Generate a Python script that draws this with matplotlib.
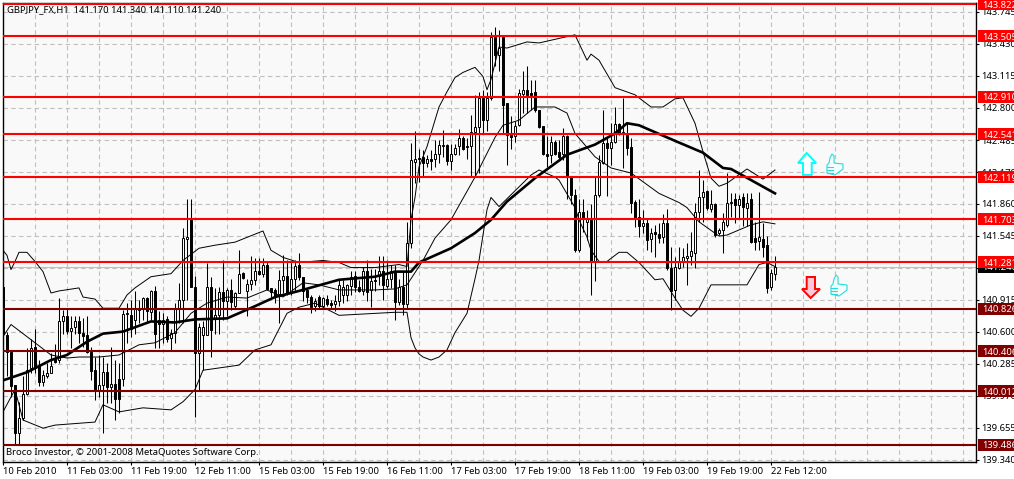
import matplotlib
matplotlib.use('Agg')
import matplotlib.pyplot as plt
from matplotlib.patches import Polygon, Rectangle
from matplotlib.transforms import blended_transform_factory
import numpy as np

# GBPJPY H1 bars (price)
opens = [141.04,140.57,140.40,140.07,139.60,139.75,139.99,140.24,140.45,140.26,
         140.10,140.16,140.19,140.34,140.32,140.70,140.75,140.61,140.65,140.70,
         140.59,140.57,140.40,140.22,140.03,140.07,140.20,140.05,140.08,140.13,
         140.13,140.77,140.76,140.71,140.81,140.83,140.93,140.79,141.00,140.71,
         140.67,140.72,140.54,140.59,140.83,140.91,141.51,141.70,141.04,140.39,
         140.57,140.57,141.04,140.73,140.76,140.99,140.90,141.01,140.85,140.98,
         141.18,141.00,141.07,141.11,141.20,141.17,141.26,141.03,141.01,140.97,
         141.11,141.15,140.98,141.12,141.26,141.14,141.01,140.94,140.85,140.94,
         140.85,140.92,140.88,140.87,140.90,140.96,140.96,141.05,141.15,141.04,
         141.00,141.20,141.01,141.11,141.15,141.20,141.05,141.12,141.20,140.89,
         141.04,140.87,141.47,142.27,142.31,142.32,142.26,142.30,142.30,142.35,
         142.43,142.44,142.28,142.35,142.43,142.50,142.43,142.43,142.56,142.61,
         142.90,142.68,142.90,143.50,143.32,143.50,142.85,142.55,142.52,142.63,
         142.94,142.98,142.95,142.96,142.78,142.62,142.35,142.34,142.47,142.37,
         142.35,142.52,142.12,141.94,141.40,141.78,141.68,141.70,141.29,141.94,
         142.26,142.46,142.41,142.47,142.64,142.55,142.55,142.42,141.88,141.73,
         141.64,141.67,141.51,141.58,141.56,141.53,141.67,141.23,141.01,141.23,
         141.28,141.32,141.34,141.37,141.78,141.92,141.98,141.81,141.86,141.57,
         141.60,141.65,141.87,141.90,141.85,141.92,141.82,141.90,141.52,141.49,
         141.51,141.45,141.04,141.17]
highs = [141.40,140.60,140.42,140.07,139.91,140.16,140.44,140.53,140.63,140.32,
         140.22,140.29,140.39,140.48,140.93,140.81,140.83,140.75,140.75,140.75,
         140.73,140.75,140.45,140.35,140.37,140.35,140.29,140.45,140.32,140.29,
         140.81,140.88,140.91,141.00,140.91,140.94,140.94,141.01,141.05,140.80,
         140.78,140.75,140.63,140.88,141.08,141.62,141.90,141.90,141.15,140.68,
         140.70,141.27,141.14,141.03,141.04,141.30,141.03,141.12,140.99,141.40,
         141.19,141.12,141.34,141.32,141.32,141.32,141.29,141.03,141.03,141.21,
         141.35,141.30,141.29,141.30,141.37,141.14,141.03,140.96,140.93,140.96,
         140.94,140.96,140.91,140.96,141.11,141.11,141.07,141.20,141.20,141.11,
         141.24,141.30,141.22,141.22,141.34,141.34,141.30,141.26,141.26,141.12,
         141.19,141.68,142.46,142.57,142.40,142.39,142.34,142.39,142.49,142.49,
         142.58,142.45,142.45,142.45,142.59,142.52,142.50,142.73,142.93,142.96,
         142.98,142.96,143.55,143.60,143.57,143.52,142.85,142.72,142.67,142.99,
         143.16,143.21,143.08,143.08,142.78,142.62,142.52,142.52,142.49,142.49,
         142.60,142.53,142.12,142.00,141.90,141.90,141.80,141.86,142.12,142.34,
         142.78,142.50,142.65,142.81,142.65,142.90,142.65,142.50,141.89,141.90,
         141.80,141.72,141.62,141.65,141.67,141.76,141.81,141.43,141.33,141.43,
         141.42,141.47,141.58,141.87,142.19,142.09,141.99,141.99,141.87,141.62,
         141.77,142.16,141.96,141.96,141.94,141.96,141.96,141.96,141.68,141.97,
         141.67,141.54,141.22,141.34]
lows = [140.49,140.16,139.96,139.48,139.48,139.73,139.98,140.19,140.19,140.06,
        140.06,140.14,140.19,140.29,140.29,140.58,140.58,140.44,140.58,140.49,
        140.45,140.39,140.12,139.93,139.96,139.60,139.90,139.90,139.73,139.80,
        140.06,140.49,140.55,140.58,140.68,140.71,140.68,140.71,140.44,140.44,
        140.49,140.50,140.41,140.49,140.68,140.68,140.91,141.04,139.76,140.03,
        140.22,140.57,140.35,140.58,140.58,140.71,140.75,140.81,140.83,140.98,
        141.12,140.75,141.01,141.06,141.16,141.14,141.01,140.94,140.88,140.68,
        140.98,140.96,140.96,141.00,141.11,140.90,140.88,140.78,140.80,140.83,
        140.83,140.85,140.83,140.80,140.85,140.88,140.90,140.96,140.99,140.99,
        140.96,140.90,140.84,141.00,141.06,140.91,141.03,141.03,140.71,140.86,
        140.76,140.83,141.42,142.06,142.07,142.12,142.22,142.19,142.22,142.26,
        142.32,142.24,142.19,142.34,142.34,142.39,142.30,142.12,142.12,142.16,
        142.55,142.57,142.88,143.21,143.16,142.55,142.24,142.40,142.47,142.62,
        142.75,142.75,142.78,142.76,142.60,142.34,142.22,142.26,142.34,142.29,
        142.29,141.90,141.86,141.38,141.38,141.58,141.50,140.96,141.10,141.92,
        142.25,141.93,142.24,142.46,142.53,142.21,142.34,141.77,141.63,141.53,
        141.57,141.40,141.38,141.33,141.47,141.47,141.21,140.81,140.91,141.22,
        141.24,141.06,141.26,141.23,141.68,141.68,141.80,141.78,141.53,141.55,
        141.37,141.63,141.73,141.67,141.71,141.64,141.64,141.47,141.40,141.40,
        141.33,140.98,141.01,141.11]
closes = [140.58,140.40,140.06,139.60,139.75,139.99,140.22,140.44,140.24,140.10,
          140.17,140.19,140.26,140.30,140.70,140.75,140.61,140.64,140.70,140.59,
          140.56,140.40,140.21,140.03,140.07,140.20,140.05,140.08,139.94,139.94,
          140.77,140.78,140.63,140.83,140.83,140.93,140.80,141.00,140.58,140.67,
          140.71,140.53,140.59,140.83,140.91,141.52,141.53,141.04,140.39,140.65,
          140.65,141.04,140.62,140.76,140.99,140.90,141.01,140.89,140.98,141.17,
          141.13,141.07,141.11,141.20,141.17,141.26,141.02,140.99,140.94,141.11,
          141.15,140.98,141.12,141.25,141.14,141.00,140.94,140.84,140.90,140.85,
          140.93,140.87,140.86,140.90,141.06,141.04,141.06,141.14,141.04,141.00,
          141.20,140.99,141.10,141.10,141.20,141.06,141.12,141.20,140.89,141.04,
          140.87,141.47,142.29,142.30,142.30,142.26,142.30,142.28,142.35,142.44,
          142.44,142.28,142.35,142.41,142.50,142.40,142.42,142.56,142.61,142.90,
          142.68,142.90,143.50,143.32,143.39,142.83,142.53,142.51,142.62,142.95,
          142.98,142.93,142.93,142.78,142.61,142.35,142.33,142.47,142.35,142.32,
          142.52,142.12,141.94,141.40,141.78,141.72,141.72,141.29,141.94,142.27,
          142.46,142.41,142.47,142.64,142.55,142.56,142.41,141.87,141.72,141.64,
          141.67,141.50,141.57,141.56,141.52,141.67,141.23,141.00,141.24,141.28,
          141.33,141.34,141.39,141.78,141.92,141.97,141.82,141.86,141.55,141.60,
          141.68,141.87,141.88,141.85,141.90,141.83,141.87,141.48,141.48,141.53,
          141.43,141.03,141.18,141.24]

# Bollinger bands and moving average, read at the bars where they bend
upper_bar = [0,1,2,3,4,6,8,10,12,14,19,20,23,25,29,31,33,37,42,45,49,53,58,65,67,70,74,77,80,84,
             87,93,99,101,102,103,104,106,109,111,113,115,118,120,121,122,124,126,131,134,143,146,
             147,149,153,158,162,165,168,170,173,175,177,179,181,186,190,193]
upper_val = [141.40,141.35,141.21,141.29,141.38,141.38,141.29,141.19,140.98,141.00,141.03,140.94,
             140.92,140.83,140.83,140.96,141.03,141.14,141.17,141.30,141.42,141.45,141.48,141.59,
             141.40,141.33,141.28,141.29,141.30,141.28,141.23,141.23,141.26,141.24,141.70,141.92,
             142.22,142.42,142.81,142.96,143.10,143.15,143.20,143.11,142.98,143.08,143.40,143.39,
             143.45,143.44,143.52,143.27,143.33,143.27,143.00,142.93,142.81,142.81,142.89,142.90,
             142.65,142.37,142.11,142.03,142.06,142.20,142.10,142.19]
lower_bar = [0,3,5,10,13,23,25,29,35,42,45,48,50,59,63,67,71,74,78,84,98,101,102,103,104,105,107,
             109,111,113,116,118,119,120,121,122,124,132,134,138,139,143,144,146,147,149,151,154,
             156,159,163,165,168,170,172,174,177,186,189,191,193]
lower_val = [139.81,140.03,139.73,139.65,139.68,139.71,139.88,139.81,139.85,139.83,139.91,140.03,
             140.22,140.27,140.42,140.47,140.78,140.84,140.88,140.76,140.79,140.79,140.54,140.44,
             140.38,140.35,140.32,140.35,140.42,140.59,140.78,141.12,141.30,141.55,141.80,141.92,
             141.83,142.14,142.19,142.12,142.09,141.82,141.70,141.53,141.40,141.29,141.29,141.38,
             141.38,141.28,141.11,141.12,140.93,140.81,140.75,140.83,141.06,141.06,141.26,141.28,
             141.24]
mid_bar = [0,2,4,8,12,16,19,24,29,34,38,43,47,51,56,61,66,70,75,79,84,93,98,101,105,108,112,118,
           123,125,129,133,138,141,143,148,152,157,164,169,171,174,179,181,187,190,193]
mid_val = [140.55,140.67,140.61,140.49,140.37,140.34,140.35,140.35,140.37,140.47,140.49,140.59,
           140.78,140.88,140.94,140.93,141.01,140.94,141.08,141.06,141.01,141.01,141.02,141.06,
           141.30,141.52,141.70,142.12,142.51,142.63,142.68,142.81,142.81,142.75,142.55,142.32,
           142.21,142.16,141.96,141.87,141.82,141.68,141.54,141.55,141.65,141.68,141.66]
ma_bar = [0,6,12,16,21,25,30,37,43,48,56,63,68,74,84,93,98,102,104,112,118,122,126,133,141,148,
          153,156,159,169,175,180,182,193]
ma_val = [140.12,140.20,140.32,140.37,140.50,140.58,140.60,140.70,140.69,140.72,140.73,140.85,
          140.94,141.00,141.11,141.14,141.19,141.19,141.28,141.42,141.57,141.70,141.88,142.11,
          142.34,142.44,142.55,142.65,142.63,142.46,142.36,142.21,142.20,141.96]

# horizontal levels and their tags
levels_red = [143.822,143.505,142.910,142.541,142.119,141.703,141.281]
levels_dark = [140.826,140.406,140.012,139.486]

price_ticks = [143.745,143.430,143.115,142.800,142.485,142.170,141.860,141.545,141.230,
               140.915,140.600,140.285,139.970,139.655,139.340]
time_bars = list(range(0, 193, 16))
time_labels = ['10 Feb 2010','11 Feb 03:00','11 Feb 19:00','12 Feb 11:00','15 Feb 03:00',
               '15 Feb 19:00','16 Feb 11:00','17 Feb 03:00','17 Feb 19:00','18 Feb 11:00',
               '19 Feb 03:00','19 Feb 19:00','22 Feb 12:00']
last_price = 141.24

W, H = 1014, 479
plt.rcParams['font.family'] = ['Noto Sans', 'DejaVu Sans']
LABEL = 6.8

fig = plt.figure(figsize=(W / 100, H / 100), dpi=100, facecolor='white')
ax = fig.add_axes([3 / W, 1 - 462 / H, 973 / W, 459 / H], facecolor='#f9f9f9')
ax.set_xlim(0, 973 / 4)
ax.set_ylim(139.317, 143.833)
for s in ax.spines.values():
    s.set_linewidth(1.0)
    s.set_color('black')

ax.yaxis.tick_right()
ax.set_yticks(price_ticks)
ax.set_yticklabels(['%.3f' % p for p in price_ticks], fontsize=LABEL)
ax.set_xticks(time_bars)
ax.set_xticklabels(time_labels, fontsize=LABEL, ha='left')
ax.tick_params(axis='both', length=2.2, width=0.8, pad=1.6, color='black')

# dashed grid, one vertical every 8 bars
grid_kw = dict(color='#c0c0c0', lw=0.8, dashes=(4, 3), zorder=1)
for p in price_ticks:
    ax.axhline(p, **grid_kw)
for b in np.arange(8, 243, 8):
    ax.axvline(b, **grid_kw)
ax.axhline(last_price, color='#c0c0c0', lw=0.8, zorder=1)

# candles
bars = np.arange(len(opens))
o = np.array(opens)
c = np.array(closes)
ax.vlines(bars, lows, highs, color='black', lw=0.75, zorder=3)
up = c >= o
ax.bar(bars[up], (c - o)[up], bottom=o[up], width=0.62, facecolor='white',
       edgecolor='black', linewidth=0.7, zorder=4)
ax.bar(bars[~up], (o - c)[~up], bottom=c[~up], width=0.62, facecolor='black',
       edgecolor='black', linewidth=0.7, zorder=4)

ax.plot(upper_bar, upper_val, color='black', lw=0.7, zorder=5)
ax.plot(lower_bar, lower_val, color='black', lw=0.7, zorder=5)
ax.plot(mid_bar, mid_val, color='black', lw=0.7, zorder=5)
ax.plot(ma_bar, ma_val, color='black', lw=1.9, zorder=6)

# levels drawn over the candles, tags over the axis labels
tag_tr = blended_transform_factory(ax.transAxes, ax.transData)
tag_h = 0.118


def add_tag(price, col, z):
    ax.add_patch(Rectangle((1.0018, price - tag_h / 2), 0.04, tag_h, transform=tag_tr, facecolor=col,
                           edgecolor='none', clip_on=False, zorder=z))
    ax.text(1.0062, price, '%.3f' % price, transform=tag_tr, color='white', fontsize=LABEL,
            va='center_baseline', ha='left', clip_on=False, zorder=z + 0.5)


add_tag(last_price, 'black', 9)
for p in levels_red + levels_dark:
    col = 'red' if p in levels_red else '#800000'
    ax.axhline(p, color=col, lw=1.5, zorder=7)
    add_tag(p, col, 10)

ax.text(4 / 973, 1 - 7 / 459, 'GBPJPY_FX,H1  141.170 141.340 141.110 141.240', transform=ax.transAxes,
        fontsize=LABEL, va='center', ha='left', zorder=11)
ax.text(3 / 973, 1 - 450 / 459, 'Broco Investor, © 2001-2008 MetaQuotes Software Corp.', transform=ax.transAxes,
        fontsize=LABEL, va='center', ha='left', zorder=11)


def px(points):
    return [(x / W, 1 - y / H) for x, y in points]


# arrows and thumbs placed on the chart by hand
fig.add_artist(Polygon(px([(806.7, 153), (816, 163), (811.7, 163), (811.7, 175), (803, 175), (803, 163), (798, 163)]),
                       closed=True, facecolor='white', edgecolor='#00ffff', lw=1.4, transform=fig.transFigure, zorder=12))
fig.add_artist(Polygon(px([(806.7, 277), (815, 277), (815, 289), (820, 289), (810.7, 298), (802, 289), (806.7, 289)]),
                       closed=True, facecolor='#ffc8d8', edgecolor='red', lw=1.4, transform=fig.transFigure, zorder=12))
thumb = [(5, 0), (7, 2), (7, 9), (16, 10), (16, 15), (8, 21), (0, 19), (0, 11), (2, 9), (3, 4)]
for ox, oy in [(827, 154), (831, 275)]:
    fig.add_artist(Polygon(px([(ox + x, oy + y) for x, y in thumb]), closed=True, facecolor='#f4ffff',
                           edgecolor='#22dddd', lw=0.8, transform=fig.transFigure, zorder=12))
    for fy in (13, 16, 19):
        fig.add_artist(plt.Line2D([(ox) / W, (ox + 6) / W], [1 - (oy + fy) / H] * 2, color='#22dddd', lw=0.8,
                                  transform=fig.transFigure, zorder=13))

fig.savefig('out.png', dpi=100)
